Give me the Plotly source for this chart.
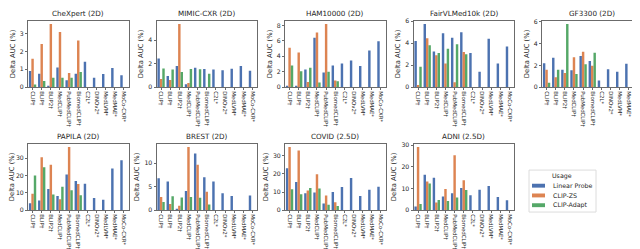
import plotly.graph_objects as go

models = ["CLIP†", "BLIP†", "BLIP2†", "MedCLIP†", "PubMedCLIP†", "BiomedCLIP†",
          "C2L*", "DINOv2*", "MedLVM*", "MedMAE*", "MoCo-CXR*"]
titles = ["CheXpert (2D)", "MIMIC-CXR (2D)", "HAM10000 (2D)", "FairVLMed10k (2D)", "GF3300 (2D)",
          "PAPILA (2D)", "BREST (2D)", "COVID (2.5D)", "ADNI (2.5D)"]
series_names = ["Linear Probe", "CLIP-ZS", "CLIP-Adapt"]

N = None
chexpert_lp = [0.9, 0.75, 0.05, 1.1, 0.38, 0.75, 1.43, 0.53, 0.74, 1.07, 0.67]
chexpert_zs = [1.6, 2.42, 3.55, 3.1, 0.8, 2.62, N, N, N, N, N]
chexpert_ad = [0.15, 0.35, 0.52, 0.52, 0.52, 0.85, N, N, N, N, N]

mimic_lp = [2.45, 0.95, 1.8, 0.25, 1.65, 1.55, 1.5, 1.45, 1.58, 1.8, 1.4]
mimic_zs = [0.7, 0.6, 5.4, 0.35, 0.0, 0.0, N, N, N, N, N]
mimic_ad = [1.6, 1.5, 1.3, 1.55, 1.52, 1.15, N, N, N, N, N]

ham_lp = [0.15, 0.05, 2.3, 6.4, 1.9, 2.8, 3.05, 3.45, 2.75, 4.75, 5.95]
ham_zs = [5.1, 4.5, 0.65, 7.1, 8.2, 0.85, N, N, N, N, N]
ham_ad = [2.8, 2.05, 2.5, 0.6, 2.0, 0.75, N, N, N, N, N]

fair_lp = [4.2, 5.75, 3.25, 4.9, 4.5, 5.0, 3.1, 1.4, 4.4, 2.15, 3.7]
fair_zs = [0.2, 4.45, 2.9, 2.15, 0.45, 3.2, N, N, N, N, N]
fair_ad = [1.85, 3.8, 3.1, 3.5, 3.9, 3.0, N, N, N, N, N]

gf_lp = [2.2, 2.7, 1.6, 1.55, 2.85, 2.4, 0.6, 1.65, 1.4, 2.15, 0.9]
gf_zs = [1.6, 0.9, 1.3, 2.75, 3.25, 1.95, N, N, N, N, N]
gf_ad = [0.4, 1.6, 5.8, 1.2, 2.1, 3.15, N, N, N, N, N]

papila_lp = [4.0, 5.5, 12.2, 8.2, 20.5, 16.8, 15.2, 7.0, 6.0, 24.0, 28.8]
papila_zs = [9.5, 30.5, 26.2, 6.3, 36.5, 15.0, N, N, N, N, N]
papila_ad = [20.0, 24.8, 9.0, 13.5, 11.5, 8.5, N, N, N, N, N]

brest_lp = [6.8, 6.1, 0.25, 4.1, 12.1, 7.0, 6.1, 3.6, 3.0, 0.0, 3.1]
brest_zs = [2.8, 1.3, 0.9, 13.5, 9.7, 3.9, N, N, N, N, N]
brest_ad = [1.7, 2.95, 2.7, 2.8, 2.65, 1.2, N, N, N, N, N]

covid_lp = [23.2, 15.5, 9.3, 9.7, 3.6, 10.0, 12.8, 17.7, 7.8, 11.3, 12.9]
covid_zs = [35.0, 33.0, 10.8, 19.9, 8.1, 4.3, N, N, N, N, N]
covid_ad = [11.5, 8.7, 12.2, 12.0, 3.0, 2.3, N, N, N, N, N]

adni_lp = [1.6, 16.3, 14.9, 6.3, 7.8, 10.2, 6.8, 9.4, 11.1, 6.1, 4.5]
adni_zs = [29.2, 13.2, 3.5, 9.7, 25.3, 13.8, N, N, N, N, N]
adni_ad = [2.8, 12.3, 4.7, 4.2, 5.8, 9.3, N, N, N, N, N]

panels = [
    (chexpert_lp, chexpert_zs, chexpert_ad, [0, 1, 2, 3]),
    (mimic_lp, mimic_zs, mimic_ad, [0, 2, 4]),
    (ham_lp, ham_zs, ham_ad, [0, 2, 4, 6, 8]),
    (fair_lp, fair_zs, fair_ad, [0, 2, 4, 6]),
    (gf_lp, gf_zs, gf_ad, [0, 2, 4, 6]),
    (papila_lp, papila_zs, papila_ad, [0, 10, 20, 30]),
    (brest_lp, brest_zs, brest_ad, [0, 5, 10]),
    (covid_lp, covid_zs, covid_ad, [0, 10, 20, 30]),
    (adni_lp, adni_zs, adni_ad, [0, 10, 20, 30]),
]

colors = ["#4C72B0", "#DD8452", "#55A868"]
W, H = 640, 249
FONT = "DejaVu Sans"
TXT = "#262626"
LINE = "#6b6b6b"

fig = go.Figure()
layout = {}
annotations = []
shapes = []
for i, (lp, zs, ad, ticks) in enumerate(panels):
    row, col = divmod(i, 5)
    left = 20 + 128.5 * col
    right = left + 100.5
    top = 10 + 126 * row
    bottom = 78 + 126 * row
    n = i + 1
    xa = "xaxis" if n == 1 else f"xaxis{n}"
    ya = "yaxis" if n == 1 else f"yaxis{n}"
    xref = "x" if n == 1 else f"x{n}"
    yref = "y" if n == 1 else f"y{n}"
    for s, (vals, name) in enumerate(zip([lp, zs, ad], series_names)):
        fig.add_trace(go.Bar(x=models, y=vals, name=name, marker_color=colors[s],
                             marker_line_width=0, xaxis=xref, yaxis=yref,
                             showlegend=False))
    ymax = max(v for v in lp + zs + ad if v is not None) * 1.05
    layout[xa] = dict(domain=[left / W, right / W], anchor=yref, range=[-0.5, 10.5],
                      tickmode="array", tickvals=models, ticktext=models,
                      tickangle=90, tickfont=dict(size=5.4, family=FONT, color=TXT),
                      showline=True, linecolor=LINE, linewidth=1, mirror=True,
                      ticks="outside", ticklen=2, tickcolor=LINE, showgrid=False)
    layout[ya] = dict(domain=[(H - bottom) / H, (H - top) / H], anchor=xref,
                      range=[0, ymax], tickvals=ticks,
                      tickfont=dict(size=6.2, family=FONT, color=TXT),
                      showline=True, linecolor=LINE, linewidth=1, mirror=True,
                      ticks="outside", ticklen=2, tickcolor=LINE, showgrid=False,
                      zeroline=False,
                      title=dict(text="Delta AUC (%)", font=dict(size=6.8, family=FONT, color=TXT),
                                 standoff=3))
    annotations.append(dict(text=titles[i], x=(left + right) / 2 / W, y=(H - top + 1) / H,
                            xref="paper", yref="paper", xanchor="center", yanchor="bottom",
                            showarrow=False, font=dict(size=7.2, family=FONT, color=TXT)))

# custom legend (compact, matplotlib-like)
def px(x):
    return x / W

def py(y):
    return (H - y) / H

shapes.append(dict(type="rect", xref="paper", yref="paper", x0=px(521), x1=px(588),
                   y0=py(206), y1=py(163), line=dict(color="#dcdcdc", width=1),
                   fillcolor="white"))
annotations.append(dict(text="Usage", x=px(554), y=py(169), xref="paper", yref="paper",
                        xanchor="center", yanchor="middle", showarrow=False,
                        font=dict(size=6.3, family=FONT, color=TXT)))
for s, name in enumerate(series_names):
    yc = 179 + 10 * s
    shapes.append(dict(type="rect", xref="paper", yref="paper", x0=px(524), x1=px(537),
                       y0=py(yc + 2), y1=py(yc - 2), line=dict(width=0),
                       fillcolor=colors[s]))
    annotations.append(dict(text=name, x=px(543), y=py(yc), xref="paper", yref="paper",
                            xanchor="left", yanchor="middle", showarrow=False,
                            font=dict(size=6.3, family=FONT, color=TXT)))

fig.update_layout(**layout)
fig.update_layout(
    width=W, height=H, margin=dict(l=0, r=0, t=0, b=0),
    plot_bgcolor="white", paper_bgcolor="white",
    barmode="group", bargap=0.2, bargroupgap=0,
    annotations=annotations, shapes=shapes, showlegend=False,
)
fig.write_html("out.html")
